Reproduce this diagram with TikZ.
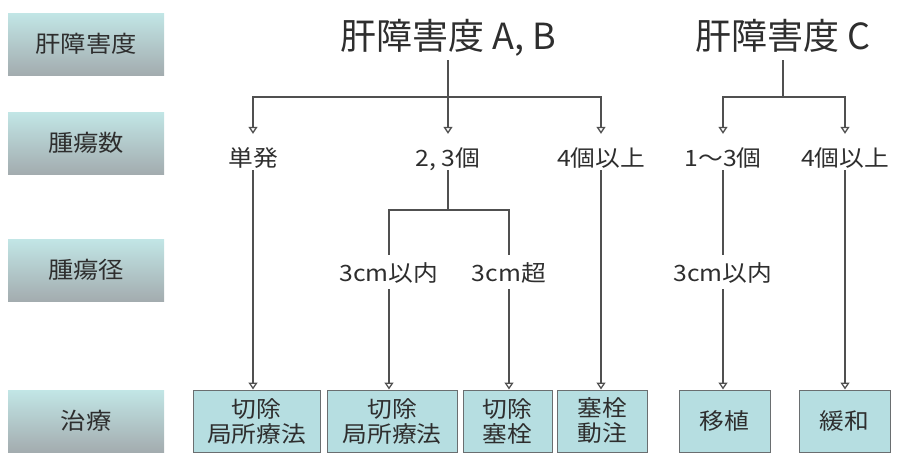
\documentclass[tikz,border=0pt]{standalone}
\usepackage{fontspec}
\setmainfont{Noto Sans CJK JP}
\newfontfamily\widejp[FakeStretch=1.1]{Noto Sans CJK JP}
\usetikzlibrary{arrows.meta}
\definecolor{ln}{HTML}{505050}
\definecolor{txt}{HTML}{2E2E2E}
\definecolor{gtop}{HTML}{C2E6E6}
\definecolor{gbot}{HTML}{A3ACAF}
\definecolor{bfill}{HTML}{B6DEE1}
\definecolor{bdraw}{HTML}{6A6E70}
\begin{document}
\begin{tikzpicture}[x=1pt,y=-1pt,
  rowbox/.style={minimum width=156pt, minimum height=62pt, inner sep=0pt,
    top color=gtop, bottom color=gbot, text=txt,
    font=\widejp\fontsize{23}{25}\selectfont},
  title/.style={anchor=base, text=txt, font=\fontsize{36}{40}\selectfont,
    text depth=9pt, inner ysep=2pt, inner xsep=2pt},
  labA/.style={anchor=base, text=txt, font=\widejp\fontsize{22.5}{25}\selectfont,
    text height=30pt, text depth=2pt, inner ysep=2pt, inner xsep=2pt},
  labB/.style={anchor=base, text=txt, font=\widejp\fontsize{22.5}{25}\selectfont,
    text height=24pt, text depth=6pt, inner ysep=2pt, inner xsep=2pt},
  treat/.style={draw=bdraw, line width=1pt, fill=bfill, text=txt,
    minimum height=62pt, inner sep=0pt, align=center,
    font=\widejp\fontsize{22.5}{25}\selectfont},
  conn/.style={draw=ln, line width=2pt},
  arr/.style={conn, -{Triangle[open, width=9pt, length=7pt, line width=1.3pt, fill=white]}}
]
\useasboundingbox (0,0) rectangle (897,455);

% left category boxes
\node[rowbox] (r1) at (86,44) {肝障害度};
\node[rowbox] (r2) at (86,143) {腫瘍数};
\node[rowbox] (r3) at (86,270) {腫瘍径};
\node[rowbox] (r4) at (86,421) {治療};

% titles
\node[title] (tAB) at (448,49) {肝障害度 A, B};
\node[title] (tC) at (783,49) {肝障害度 C};

% tumour count labels
\node[labA] (l1) at (253,166) {単発};
\node[labA] (l2) at (448,166) {2, 3個};
\node[labA] (l3) at (601,166) {4個以上};
\node[labA] (l4) at (723,166) {1〜3個};
\node[labA] (l5) at (845,166) {4個以上};

% tumour size labels
\node[labB] (d1) at (389,281) {3cm以内};
\node[labB] (d2) at (509,281) {3cm超};
\node[labB] (d3) at (723,281) {3cm以内};

% treatment boxes
\node[treat, minimum width=127pt] (b1) at (256.5,421) {切除\\局所療法};
\node[treat, minimum width=130pt] (b2) at (392,421) {切除\\局所療法};
\node[treat, minimum width=89pt] (b3) at (507.5,421) {切除\\塞栓};
\node[treat, minimum width=90pt] (b4) at (602,421) {塞栓\\動注};
\node[treat, minimum width=91pt] (b5) at (724.5,421) {移植};
\node[treat, minimum width=91pt] (b6) at (844.5,421) {緩和};

% junctions
\coordinate (jAB) at (448,97);
\coordinate (jC) at (783,97);
\coordinate (j2) at (448,210);

% top level connectors
\draw[conn] (tAB.south) -- (jAB);
\draw[arr] (jAB) -| (l1);
\draw[arr] (jAB) -- (l2);
\draw[arr] (jAB) -| (l3);
\draw[conn] (tC.south) -- (jC);
\draw[arr] (jC) -| (l4);
\draw[arr] (jC) -| (l5);

% second level
\draw[conn] (l2.south) -- (j2);
\draw[conn] (d1) |- (j2) -| (d2);
\draw[conn] (l4.south) -- (d3.north);

% to treatments
\draw[arr] (l1.south) -- (l1.south |- b1.north);
\draw[arr] (d1.south) -- (d1.south |- b2.north);
\draw[arr] (d2.south) -- (d2.south |- b3.north);
\draw[arr] (l3.south) -- (l3.south |- b4.north);
\draw[arr] (d3.south) -- (d3.south |- b5.north);
\draw[arr] (l5.south) -- (l5.south |- b6.north);
\end{tikzpicture}
\end{document}
